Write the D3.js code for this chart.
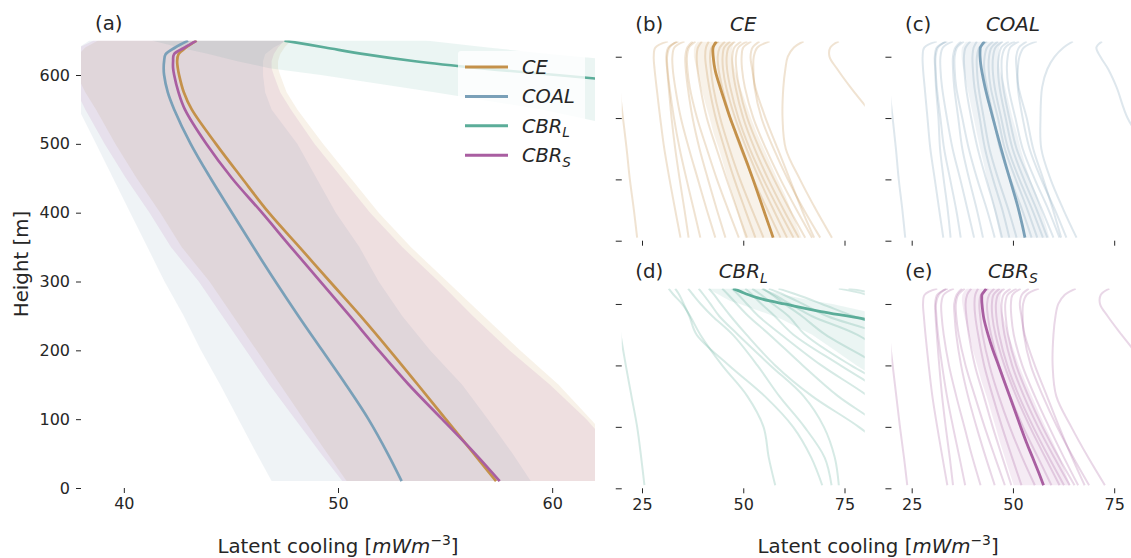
<!DOCTYPE html>
<html>
<head>
<meta charset="utf-8">
<script src="https://cdn.jsdelivr.net/npm/d3@7"></script>
<style>
  body { margin: 0; background: #fff; }
  svg { display: block; }
</style>
</head>
<body>
<svg id="fig" width="1131" height="558"></svg>
<script>
// ---- Mean profiles and spread (latent cooling, mW m^-3) on common height levels (m)
const heights = [10, 50, 100, 150, 200, 250, 300, 350, 400, 450, 500, 550, 575, 600, 610, 620, 630, 640, 650];

const ceMean = [57.38, 56.34, 55.03, 53.73, 52.41, 51.05, 49.62, 48.20, 46.77, 45.52, 44.30, 43.17, 42.80, 42.58, 42.52, 42.49, 42.55, 42.90, 43.40];
const ceLow  = [50.4, 49.5, 48.4, 47.3, 46.2, 45.1, 44.0, 42.7, 41.7, 40.6, 39.6, 38.7, 38.2, 37.8, 37.8, 37.8, 37.9, 38.2, 38.8];
const ceHigh = [64.4, 63.2, 61.8, 60.3, 58.5, 56.8, 55.1, 53.4, 51.9, 50.6, 49.3, 48.1, 47.6, 47.3, 47.2, 47.2, 47.3, 47.5, 47.8];

const coalMean = [52.97, 52.32, 51.42, 50.37, 49.26, 48.15, 47.08, 46.05, 45.05, 44.05, 43.12, 42.35, 42.05, 41.88, 41.86, 41.88, 41.95, 42.40, 43.00];
const coalLow  = [46.9, 46.2, 45.35, 44.5, 43.6, 42.8, 41.9, 41.1, 40.3, 39.5, 38.7, 37.9, 37.5, 37.3, 37.3, 37.3, 37.4, 37.9, 38.4];
const coalHigh = [59.0, 58.15, 57.0, 55.8, 54.3, 53.0, 51.9, 51.0, 49.9, 49.0, 48.1, 46.9, 46.6, 46.5, 46.5, 46.5, 46.6, 47.0, 47.6];

const cbrlMean = [140, 138, 135, 133, 130, 126, 122, 117, 112, 104, 95, 80.1, 69.2, 60.2, 56.6, 53.6, 51.3, 49.4, 47.5];
const cbrlLow  = [110, 108, 104, 101, 98, 94, 90, 84, 78, 72.5, 67, 59.5, 54.5, 49.2, 46.8, 45.3, 44.0, 42.6, 41.3];
const cbrlHigh = [170, 168, 165, 160, 155, 150, 145, 140, 130, 120, 105, 90, 80.5, 72, 67.5, 63.5, 60.0, 57.0, 54.1];

const cbrsMean = [57.55, 56.40, 54.86, 53.31, 51.90, 50.55, 49.18, 47.80, 46.45, 45.05, 43.85, 42.85, 42.55, 42.35, 42.30, 42.30, 42.34, 42.85, 43.39];
const cbrsLow  = [50.2, 49.2, 48.0, 46.8, 45.7, 44.6, 43.5, 42.2, 41.2, 40.1, 39.1, 38.2, 37.8, 37.5, 37.4, 37.4, 37.5, 37.9, 38.6];
const cbrsHigh = [64.2, 63.0, 61.6, 59.9, 58.0, 56.3, 54.7, 53.0, 51.5, 50.2, 48.9, 47.8, 47.3, 47.0, 46.9, 46.9, 47.0, 47.2, 47.5];

// ---- Individual ensemble members on their own height levels (m)
const memberHeights = [10, 100, 200, 300, 400, 500, 560, 600, 630, 650];

const ceMembers = [
  [23.8, 23.0, 22.0, 21.2, 20.3, 19.4, 18.8, 18.3, 18.0, 17.8],
  [34.5, 33.2, 31.8, 30.5, 29.5, 28.6, 28.1, 27.9, 28.3, 31.4],
  [36.5, 35.5, 34.3, 33.2, 32.3, 31.6, 31.2, 31.0, 31.5, 34.0],
  [39.4, 37.8, 36.0, 34.3, 32.9, 31.8, 31.3, 31.2, 31.8, 33.6],
  [43.1, 41.0, 38.8, 36.6, 34.6, 33.2, 32.6, 32.5, 33.0, 35.5],
  [45.6, 43.5, 41.3, 39.2, 37.5, 36.3, 35.8, 35.7, 36.2, 37.5],
  [48.9, 46.3, 43.5, 41.0, 38.6, 36.8, 36.2, 36.1, 36.6, 38.2],
  [50.9, 48.5, 45.9, 43.4, 41.0, 39.4, 38.7, 38.5, 38.8, 39.8],
  [53.0, 50.5, 47.8, 45.4, 43.2, 41.6, 40.9, 40.6, 40.8, 41.5],
  [55.0, 52.2, 49.2, 46.6, 44.3, 42.6, 42.0, 41.8, 42.2, 44.0],
  [59.2, 56.0, 52.5, 49.4, 46.8, 44.8, 43.9, 43.7, 44.2, 45.5],
  [60.8, 57.5, 54.0, 50.8, 48.0, 45.8, 45.0, 44.9, 45.3, 46.8],
  [62.4, 58.8, 55.0, 51.6, 48.8, 46.8, 46.0, 45.9, 46.4, 48.0],
  [63.7, 60.0, 56.2, 52.8, 50.0, 48.1, 47.4, 47.3, 47.8, 49.5],
  [65.3, 61.5, 57.6, 54.0, 51.0, 49.0, 48.3, 48.2, 48.8, 51.0],
  [67.0, 63.2, 59.2, 55.6, 52.5, 50.4, 49.7, 49.6, 50.0, 52.0],
  [67.5, 64.5, 61.5, 58.5, 55.5, 53.0, 52.2, 51.8, 52.3, 54.0],
  [69.0, 65.0, 61.0, 57.5, 54.5, 52.8, 52.5, 52.6, 53.5, 56.5],
  [71.9, 68.0, 64.0, 60.5, 59.7, 59.9, 60.4, 61.0, 62.5, 64.9],
  [100, 97, 93, 88, 82.5, 76.5, 73.2, 71.3, 71.5, 73.6]
];

const coalMembers = [
  [23.4, 22.7, 21.8, 21.1, 20.3, 19.4, 18.8, 18.4, 18.1, 17.8],
  [32.8, 31.8, 30.7, 29.6, 28.9, 28.2, 27.8, 27.7, 28.1, 31.2],
  [34.6, 33.9, 32.9, 32.0, 31.6, 31.0, 30.8, 30.7, 31.2, 33.8],
  [37.1, 36.0, 34.5, 33.0, 32.1, 31.2, 30.9, 30.9, 31.5, 33.4],
  [40.4, 38.8, 37.0, 35.1, 33.7, 32.5, 32.1, 32.1, 32.7, 35.2],
  [42.6, 41.1, 39.2, 37.5, 36.5, 35.5, 35.2, 35.2, 35.8, 37.2],
  [45.5, 43.6, 41.2, 39.1, 37.5, 36.0, 35.6, 35.6, 36.2, 37.9],
  [47.3, 45.6, 43.4, 41.3, 39.7, 38.4, 38.0, 37.9, 38.3, 39.5],
  [49.1, 47.4, 45.1, 43.1, 41.8, 40.5, 40.1, 40.0, 40.3, 41.1],
  [50.9, 48.9, 46.4, 44.2, 42.8, 41.5, 41.1, 41.1, 41.7, 43.6],
  [54.6, 52.3, 49.4, 46.8, 45.2, 43.6, 42.9, 43.0, 43.6, 45.1],
  [56.0, 53.6, 50.7, 48.0, 46.3, 44.5, 44.0, 44.1, 44.7, 46.3],
  [57.4, 54.8, 51.6, 48.8, 47.1, 45.5, 45.0, 45.1, 45.7, 47.5],
  [58.5, 55.9, 52.7, 49.9, 48.2, 46.7, 46.3, 46.5, 47.1, 49.0],
  [60.0, 57.2, 54.0, 50.9, 49.1, 47.6, 47.2, 47.3, 48.1, 50.5],
  [61.5, 58.8, 55.4, 52.4, 50.6, 48.9, 48.5, 48.7, 49.3, 51.5],
  [61.9, 59.9, 57.5, 55.0, 53.4, 51.4, 50.9, 50.8, 51.5, 53.4],
  [63.2, 60.4, 57.0, 54.1, 52.4, 51.2, 51.2, 51.6, 52.7, 55.9],
  [65.7, 62.5, 59.3, 57.0, 56.8, 57.2, 58.5, 60.3, 62.5, 64.8],
  [92, 90, 87, 83, 78.3, 75.6, 73.5, 71.6, 70.6, 72.0]
];

const cbrlMembers = [
  [25.6, 24.8, 23.8, 22.4, 21.0, 19.7, 18.9, 18.3, 17.9, 17.6],
  [57.9, 56.3, 55.0, 51.0, 44.8, 39.4, 36.9, 34.9, 32.8, 31.6],
  [69.5, 66.8, 62.3, 55.3, 46.5, 38.5, 36.7, 35.3, 34.2, 33.2],
  [71.8, 70.1, 65.1, 58.9, 53.5, 47.4, 42.4, 39.5, 37.6, 36.4],
  [73.6, 72.6, 69.9, 64.9, 56.7, 48.7, 44.1, 41.9, 40.2, 39.0],
  [95, 88, 78.5, 67.0, 57.9, 50.8, 46.9, 44.5, 42.8, 41.5],
  [95, 90, 84, 73.4, 64.7, 56.5, 51.3, 48.4, 46.3, 44.8],
  [100, 95, 90, 80.8, 69.3, 59.4, 53.8, 50.9, 48.8, 47.2],
  [105, 100, 95, 86, 74.0, 62.4, 57.8, 54.5, 52.2, 50.5],
  [110, 105, 98, 90, 76.6, 65.3, 61.2, 57.3, 54.4, 52.2],
  [115, 110, 103, 95, 83.5, 70.3, 64.5, 60.2, 57.1, 54.9],
  [120, 115, 110, 100, 90, 78.1, 67.0, 61.6, 57.6, 54.6],
  [125, 120, 112, 105, 95, 84, 70.8, 64.7, 60.0, 56.3],
  [130, 125, 118, 110, 100, 90, 77.3, 69.4, 63.3, 58.7],
  [150, 145, 140, 130, 120, 110, 100, 86, 80.5, 73.6],
  [155, 150, 145, 135, 125, 115, 105, 92, 84, 76.0]
];

const cbrsMembers = [
  [23.9, 23.1, 22.1, 21.2, 20.3, 19.4, 18.8, 18.3, 18.0, 17.8],
  [33.8, 32.6, 31.3, 30.1, 29.2, 28.4, 28.0, 27.8, 28.2, 31.3],
  [35.2, 34.4, 33.4, 32.5, 31.8, 31.2, 30.9, 30.8, 31.3, 33.9],
  [38.2, 36.8, 35.2, 33.7, 32.5, 31.5, 31.1, 31.0, 31.7, 33.5],
  [42.0, 40.0, 38.0, 36.0, 34.2, 32.9, 32.4, 32.3, 32.9, 35.4],
  [45.5, 43.3, 41.0, 38.9, 37.2, 36.0, 35.6, 35.5, 36.1, 37.4],
  [48.0, 45.6, 43.0, 40.6, 38.3, 36.6, 36.0, 35.9, 36.5, 38.1],
  [49.6, 47.4, 45.0, 42.8, 40.6, 39.1, 38.5, 38.3, 38.7, 39.7],
  [52.1, 49.8, 47.3, 45.0, 42.9, 41.4, 40.7, 40.5, 40.7, 41.4],
  [55.4, 52.3, 49.2, 46.5, 44.2, 42.5, 41.9, 41.7, 42.1, 43.9],
  [59.5, 56.2, 52.5, 49.3, 46.6, 44.6, 43.8, 43.6, 44.1, 45.4],
  [61.5, 58.0, 54.2, 50.8, 47.9, 45.7, 44.9, 44.8, 45.2, 46.7],
  [62.6, 58.9, 55.0, 51.5, 48.6, 46.6, 45.9, 45.8, 46.3, 47.9],
  [64.0, 60.2, 56.2, 52.7, 49.8, 47.9, 47.3, 47.2, 47.7, 49.4],
  [65.2, 61.3, 57.3, 53.8, 50.8, 48.8, 48.2, 48.1, 48.7, 50.9],
  [66.1, 62.6, 58.9, 55.4, 52.3, 50.2, 49.6, 49.5, 49.9, 51.9],
  [67.7, 64.6, 61.4, 58.4, 55.4, 52.9, 52.1, 51.7, 52.2, 53.9],
  [68.8, 64.9, 60.9, 57.4, 54.4, 52.7, 52.4, 52.5, 53.4, 56.4],
  [72.7, 68.6, 64.4, 60.7, 59.8, 60.0, 60.5, 61.2, 62.8, 65.5],
  [100, 97, 93, 88, 82.8, 76.8, 73.4, 71.5, 71.7, 73.8]
];

// ---- Tick labels
const heightTicks = [0, 100, 200, 300, 400, 500, 600];
const heightTicksSmall = [0, 200, 400, 600];
const coolingTicksMain = [40, 50, 60];
const coolingTicksSmall = [25, 50, 75];

// ---- Figure set-up
const FONT = '"DejaVu Sans", "Liberation Sans", sans-serif';
const INK = '#262626';
const TICK_FS = 16;
const LABEL_FS = 19.8;
const LEGEND_FS = 19.4;

const svg = d3.select('#fig');
const defs = svg.append('defs');

const xA = d3.scaleLinear().domain([38, 62]).range([81, 595]);
const yA = d3.scaleLinear().domain([0, 650]).range([488, 40.6]);
const xLeft = d3.scaleLinear().domain([20, 80]).range([621.75, 864.75]);
const xRight = d3.scaleLinear().domain([20, 80]).range([891.45, 1134.45]);
const yTop = d3.scaleLinear().domain([0, 650]).range([240.7, 41.4]);
const yBottom = d3.scaleLinear().domain([0, 650]).range([488.3, 288.6]);

const series = [
  { name: 'CE',   sub: null, color: '#c4914a', mean: ceMean,   low: ceLow,   high: ceHigh,   members: ceMembers,   x: xLeft,  y: yTop,    tag: '(b)', xLabels: false },
  { name: 'COAL', sub: null, color: '#7aa0b8', mean: coalMean, low: coalLow, high: coalHigh, members: coalMembers, x: xRight, y: yTop,    tag: '(c)', xLabels: false },
  { name: 'CBR',  sub: 'L',  color: '#5bad99', mean: cbrlMean, low: cbrlLow, high: cbrlHigh, members: cbrlMembers, x: xLeft,  y: yBottom, tag: '(d)', xLabels: true },
  { name: 'CBR',  sub: 'S',  color: '#a95ea1', mean: cbrsMean, low: cbrsLow, high: cbrsHigh, members: cbrsMembers, x: xRight, y: yBottom, tag: '(e)', xLabels: true }
];

function addClip(id, x, y) {
  const [x0, x1] = x.range();
  const [y0, y1] = y.range();
  defs.append('clipPath').attr('id', id).append('rect')
    .attr('x', x0).attr('y', y1).attr('width', x1 - x0).attr('height', y0 - y1);
  return `url(#${id})`;
}

function styleAxis(g) {
  g.attr('font-family', FONT).attr('font-size', TICK_FS);
  g.select('.domain').remove();
  g.selectAll('.tick line').attr('stroke', INK).attr('stroke-width', 1);
  g.selectAll('.tick text').attr('fill', INK);
}

// italic label with an optional subscript
function mathText(sel, main, sub, size) {
  sel.append('tspan').attr('font-style', 'italic').text(main);
  if (sub) {
    sel.append('tspan').attr('font-style', 'italic')
      .attr('font-size', size * 0.7).attr('dy', size * 0.24).text(sub);
  }
}

function rowsOf(s) {
  return heights.map((h, i) => ({ h, m: s.mean[i], lo: s.low[i], hi: s.high[i] }));
}

// ---- Panel (a): all configurations together
const clipA = addClip('clip-a', xA, yA);
const gA = svg.append('g').attr('clip-path', clipA);

const bandA = d3.area().y(d => yA(d.h)).x0(d => xA(d.lo)).x1(d => xA(d.hi));
const meanA = d3.line().x(d => xA(d.m)).y(d => yA(d.h)).curve(d3.curveCatmullRom.alpha(0.5));

series.forEach(s => {
  gA.append('path').datum(rowsOf(s)).attr('d', bandA)
    .attr('fill', s.color).attr('fill-opacity', 0.12).attr('stroke', 'none');
});
series.forEach(s => {
  gA.append('path').datum(rowsOf(s)).attr('d', meanA)
    .attr('fill', 'none').attr('stroke', s.color).attr('stroke-width', 2.7)
    .attr('stroke-linejoin', 'round');
});

// legend
const legend = svg.append('g');
legend.append('rect').attr('x', 458).attr('y', 51).attr('width', 127).attr('height', 120)
  .attr('fill', '#fff').attr('fill-opacity', 0.8).attr('rx', 3);
series.forEach((s, i) => {
  const cy = 67 + i * 29.4;
  legend.append('line').attr('x1', 465).attr('x2', 508).attr('y1', cy).attr('y2', cy)
    .attr('stroke', s.color).attr('stroke-width', 3);
  const t = legend.append('text').attr('x', 522).attr('y', cy + 7)
    .attr('font-family', FONT).attr('font-size', LEGEND_FS).attr('fill', INK);
  mathText(t, s.name, s.sub, LEGEND_FS);
});

// axes of panel (a)
const yAxisA = svg.append('g').attr('transform', `translate(${xA.range()[0]},0)`)
  .call(d3.axisLeft(yA).tickValues(heightTicks).tickSize(5).tickPadding(6));
styleAxis(yAxisA);
const xAxisA = svg.append('g').attr('transform', `translate(0,${yA(0)})`)
  .call(d3.axisBottom(xA).tickValues(coolingTicksMain).tickSize(5).tickPadding(5));
styleAxis(xAxisA);

svg.append('text').attr('x', 95).attr('y', 30)
  .attr('font-family', FONT).attr('font-size', LABEL_FS).attr('fill', INK).text('(a)');

// ---- Panels (b)-(e): ensemble members per configuration
const bandS = (x, y) => d3.area().y(d => y(d.h)).x0(d => x(d.lo)).x1(d => x(d.hi));
const memberLine = (x, y) => d3.line().x(d => x(d[0])).y(d => y(d[1])).curve(d3.curveCatmullRom.alpha(0.5));

series.forEach((s, k) => {
  const clip = addClip('clip-' + k, s.x, s.y);
  const g = svg.append('g').attr('clip-path', clip);

  g.append('path').datum(rowsOf(s)).attr('d', bandS(s.x, s.y))
    .attr('fill', s.color).attr('fill-opacity', 0.12);

  const ln = memberLine(s.x, s.y);
  s.members.forEach(vals => {
    g.append('path').datum(vals.map((v, i) => [v, memberHeights[i]])).attr('d', ln)
      .attr('fill', 'none').attr('stroke', s.color).attr('stroke-opacity', 0.25)
      .attr('stroke-width', 2);
  });

  g.append('path').datum(rowsOf(s))
    .attr('d', d3.line().x(d => s.x(d.m)).y(d => s.y(d.h)).curve(d3.curveCatmullRom.alpha(0.5)))
    .attr('fill', 'none').attr('stroke', s.color).attr('stroke-width', 2.8)
    .attr('stroke-linejoin', 'round');

  const ya = svg.append('g').attr('transform', `translate(${s.x.range()[0]},0)`)
    .call(d3.axisLeft(s.y).tickValues(heightTicksSmall).tickSize(6).tickFormat(() => ''));
  styleAxis(ya);
  const xa = svg.append('g').attr('transform', `translate(0,${s.y(0)})`)
    .call(d3.axisBottom(s.x).tickValues(coolingTicksSmall).tickSize(5).tickPadding(5)
      .tickFormat(s.xLabels ? d3.format('d') : () => ''));
  styleAxis(xa);

  const top = s.y.range()[1];
  svg.append('text').attr('x', s.x.range()[0] + 13.5).attr('y', top - 10.5)
    .attr('font-family', FONT).attr('font-size', LABEL_FS).attr('fill', INK).text(s.tag);
  const title = svg.append('text')
    .attr('x', (s.x.range()[0] + s.x.range()[1]) / 2).attr('y', top - 10.5)
    .attr('text-anchor', 'middle')
    .attr('font-family', FONT).attr('font-size', LABEL_FS).attr('fill', INK);
  mathText(title, s.name, s.sub, LABEL_FS);
});

// ---- Axis titles
svg.append('text').attr('transform', 'translate(28,264) rotate(-90)')
  .attr('text-anchor', 'middle').attr('font-family', FONT).attr('font-size', LABEL_FS)
  .attr('fill', INK).text('Height [m]');

function coolingLabel(cx) {
  const t = svg.append('text').attr('x', cx).attr('y', 553).attr('text-anchor', 'middle')
    .attr('font-family', FONT).attr('font-size', LABEL_FS).attr('fill', INK);
  t.append('tspan').text('Latent cooling [');
  t.append('tspan').attr('font-style', 'italic').text('mWm');
  t.append('tspan').attr('font-size', LABEL_FS * 0.7).attr('dy', -LABEL_FS * 0.42).text('\u22123');
  t.append('tspan').attr('dy', LABEL_FS * 0.42).text(']');
}
coolingLabel((xA.range()[0] + xA.range()[1]) / 2);
coolingLabel((xLeft.range()[0] + xRight.range()[1]) / 2);
</script>
</body>
</html>
